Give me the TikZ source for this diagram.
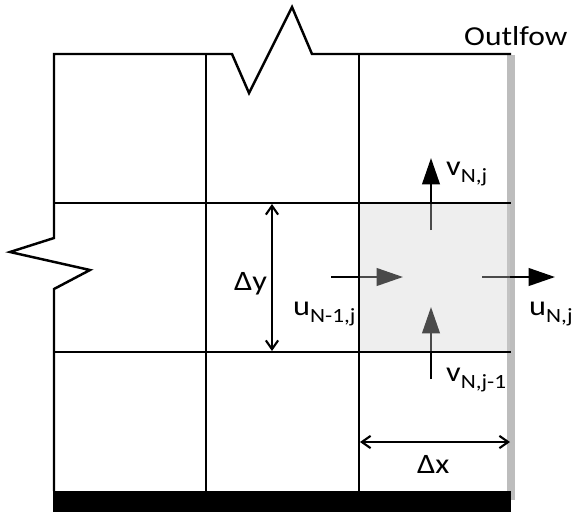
\documentclass[tikz,border=0pt]{standalone}
\usepackage{fontspec}
\setmainfont{Carlito}[FakeStretch=1.15]
\usepackage{tikz}
\usetikzlibrary{arrows.meta}
\definecolor{bargray}{HTML}{BDBDBD}
\definecolor{cellgray}{HTML}{CFCFCF}
\newcommand{\lowsub}[1]{\raisebox{-4.5pt}{\fontsize{11.5pt}{13pt}\selectfont #1}}

\begin{document}
\begin{tikzpicture}[x=0.02cm, y=-0.02cm, line width=1.4pt,
    lab/.style={anchor=base west, inner sep=0pt, font=\fontsize{16pt}{18pt}\selectfont},
    flux/.style={-{Triangle[length=15pt, width=10pt]}, line width=1.3pt},
    span/.style={{Straight Barb[length=5pt, width=7pt]}-{Straight Barb[length=5pt, width=7pt]}, line width=1.2pt}]
  \useasboundingbox (0,0) rectangle (574,512);
  % outflow wall and bottom wall
  \fill[bargray] (507,55) rectangle (515,500);
  \fill[black] (53,491) rectangle (511,512);
  % grid with cut edges
  \draw (54,491) -- (54,289) -- (90,270) -- (10,252) -- (54,238) -- (54,54)
    -- (232,54) -- (249,93) -- (292,7) -- (312,54) -- (511,54);
  \foreach \y in {203,352} \draw (54,\y) -- (511,\y);
  \foreach \x in {206,359} \draw (\x,54) -- (\x,491);
  % velocity arrows
  \coordinate (vN0) at (431,230); \coordinate (vN1) at (431,158);
  \coordinate (vS0) at (431,379); \coordinate (vS1) at (431,307);
  \coordinate (uW0) at (331,277); \coordinate (uW1) at (403,277);
  \coordinate (uE0) at (482,277); \coordinate (uE1) at (555,277);
  \draw[flux] (vN0) -- (vN1);
  \draw[flux] (vS0) -- (vS1);
  \draw[flux] (uW0) -- (uW1);
  \draw[flux] (uE0) -- (uE1);
  % shaded boundary cell
  \fill[cellgray, opacity=0.36] (360,204) rectangle (510,351);
  % spacings
  \coordinate (dyT) at (272,204); \coordinate (dyB) at (272,351);
  \coordinate (dxL) at (360,442); \coordinate (dxR) at (510,442);
  \draw[span] (dyT) -- (dyB);
  \draw[span] (dxL) -- (dxR);
  % labels
  \node[lab, font=\fontsize{15.6pt}{18pt}\selectfont] (outflow) at (463,45) {Outlfow};
  \node[lab] (vNj) at (445,175) {v\lowsub{N,j}};
  \node[lab] (vNjm) at (445,381) {v\lowsub{N,j-1}};
  \node[lab] (uNmj) at (292,315) {u\lowsub{N-1,j}};
  \node[lab] (uNj) at (528,315) {u\lowsub{N,j}};
  \node[lab] (dy) at (233,290) {Δy};
  \node[lab] (dx) at (416,473) {Δx};
\end{tikzpicture}
\end{document}
